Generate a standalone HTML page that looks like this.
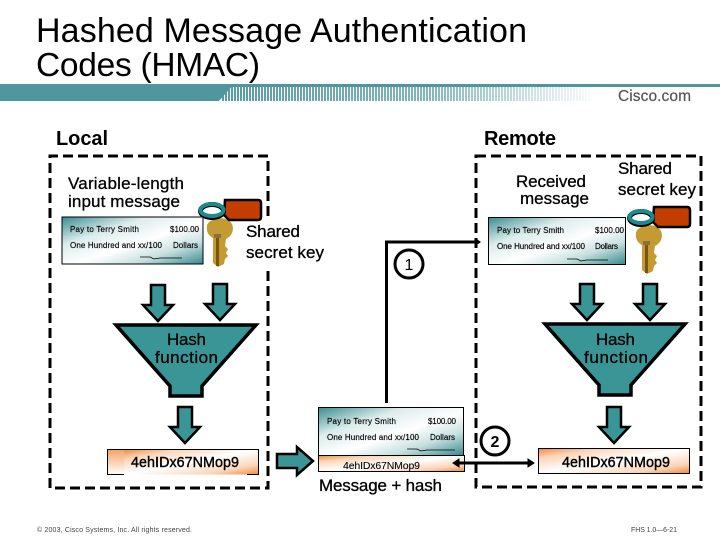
<!DOCTYPE html>
<html><head><meta charset="utf-8"><style>
html,body{margin:0;padding:0;background:#fff;width:720px;height:540px;overflow:hidden}
svg{display:block}
text{font-family:"Liberation Sans",sans-serif;fill:#000}
.m{font-size:17px;stroke:#000;stroke-width:.3}
.c{font-size:8px;stroke:#000;stroke-width:.15}
.h{font-size:14.3px;stroke:#000;stroke-width:.4}
</style></head><body>
<svg width="720" height="540" viewBox="0 0 720 540" xmlns="http://www.w3.org/2000/svg">
<defs>
<pattern id="st" width="3" height="20" patternUnits="userSpaceOnUse"><rect width="2" height="20" fill="#4f969f"/></pattern>
<linearGradient id="fade" x1="0" x2="1" y1="0" y2="0"><stop offset="0" stop-color="#fff" stop-opacity=".05"/><stop offset=".55" stop-color="#fff" stop-opacity=".3"/><stop offset="1" stop-color="#fff" stop-opacity="1"/></linearGradient>
<linearGradient id="chk" x1="0" y1="0" x2="1" y2="1"><stop offset="0" stop-color="#3a8c8f"/><stop offset=".3" stop-color="#dcecec"/><stop offset=".55" stop-color="#fff"/><stop offset=".75" stop-color="#c8e0e0"/><stop offset="1" stop-color="#348a8c"/></linearGradient>
<linearGradient id="or" x1="0" y1="0" x2="1" y2="1"><stop offset="0" stop-color="#f08a3c"/><stop offset=".2" stop-color="#fbd5b8"/><stop offset=".5" stop-color="#fff"/><stop offset=".8" stop-color="#fbd5b8"/><stop offset="1" stop-color="#f08a3c"/></linearGradient>
<linearGradient id="orv" x1="0" y1="0" x2="0" y2="1"><stop offset="0" stop-color="#f5a265"/><stop offset="1" stop-color="#fff"/></linearGradient>
<g id="key">
<path d="M207 226 C208 218 226 214 232 224 C235 232 230 237 226 239 L225 246 L228 249 L226 253 L228 256 L225 259 L224 264 L218 267 L213 263 L213 238 C209 236 206 232 207 226Z" fill="#c49a32"/>
<rect x="216" y="238" width="3" height="28" fill="#7a5510"/>
<rect x="214" y="234" width="7" height="4" fill="#8a7040"/>
<path d="M225 200 H258 Q261 200 261 203 V217 Q261 220 258 220 H229 L224 215Z" fill="#c33c00" stroke="#000" stroke-width="2.500"/>
<ellipse cx="212" cy="211" rx="11.500" ry="6.500" fill="none" stroke="#000" stroke-width="5"/>
<ellipse cx="212" cy="210" rx="11.500" ry="6" fill="none" stroke="#1d8a8c" stroke-width="4"/>
</g>
<path id="d1" d="M-7 0 H7 V20 H15 L0 36 L-15 20 H-7Z" fill="#3a9696" stroke="#000" stroke-width="2.500"/>
<path id="fn" d="M0 0 H140 L86 61 V71 H54 V61Z" fill="#3a9696" stroke="#000" stroke-width="3.500"/>
</defs>

<!-- Title -->
<text x="36" y="42" font-size="34" textLength="491" lengthAdjust="spacing">Hashed Message Authentication</text>
<text x="36" y="76" font-size="33.500" textLength="224" lengthAdjust="spacing">Codes (HMAC)</text>

<!-- Header bar -->
<rect x="222" y="87" width="370" height="14" fill="url(#st)"/>
<rect x="222" y="87" width="378" height="14" fill="url(#fade)"/>
<rect x="220" y="84" width="500" height="3" fill="#4f969f"/>
<path d="M0 84 H234 L219 101 H0Z" fill="#4f969f"/>
<text x="618" y="101" font-size="15.500" style="fill:#555" stroke="#555" stroke-width=".2" textLength="73" lengthAdjust="spacing">Cisco.com</text>

<!-- Headings -->
<text x="56" y="145" font-size="20" font-weight="bold" textLength="52">Local</text>
<text x="484" y="145" font-size="20" font-weight="bold" textLength="72">Remote</text>

<!-- Dashed boxes -->
<g fill="none" stroke="#000" stroke-width="3" stroke-dasharray="10 5">
<path d="M268 216 V156 H50 V488 H268 V267"/>
<path d="M476 156 H701 V487 H476 Z"/>
</g>

<!-- Left side -->
<text class="m" x="68" y="189" textLength="116">Variable-length</text>
<text class="m" x="68" y="207" textLength="112">input message</text>
<use href="#key"/>
<rect x="62" y="217" width="141" height="47" fill="url(#chk)" stroke="#000"/>
<text class="c" x="70" y="232" textLength="69">Pay to Terry Smith</text>
<text class="c" x="170" y="232" textLength="29">$100.00</text>
<text class="c" x="70" y="248" textLength="92">One Hundred and xx/100</text>
<text class="c" x="173" y="248" textLength="25">Dollars</text>
<path d="M140 257 H150 L154 259 L160 258 H182" fill="none" stroke="#000" stroke-width=".8"/>
<text class="m" x="246" y="237" textLength="54">Shared</text>
<text class="m" x="246" y="258" textLength="78">secret key</text>

<use href="#d1" x="158" y="285"/>
<use href="#d1" x="220" y="284"/>
<use href="#fn" x="116" y="325"/>
<text class="m" x="167" y="345" textLength="39">Hash</text>
<text class="m" x="155" y="363" textLength="63">function</text>
<use href="#d1" x="185" y="407"/>
<rect x="107.500" y="449.500" width="17" height="25" fill="url(#orv)"/>
<rect x="124" y="449.500" width="134.500" height="25" fill="url(#or)"/>
<path d="M124 474.500 H107.500 V449.500 H258.500 V474.500 H247" fill="none" stroke="#000"/>
<text class="h" x="131" y="467" textLength="108">4ehIDx67NMop9</text>

<!-- Right pointing arrow -->
<path d="M277 454 H297 V447 L313 461 L297 475 V468 H277Z" fill="#3a9696" stroke="#000" stroke-width="2.500"/>

<!-- Center -->
<rect x="318.500" y="407.500" width="145" height="48" fill="url(#chk)" stroke="#000"/>
<rect x="318.500" y="455.500" width="146" height="16" fill="url(#or)" stroke="#000"/>
<text class="c" x="327" y="424" textLength="69">Pay to Terry Smith</text>
<text class="c" x="428" y="424" textLength="28">$100.00</text>
<text class="c" x="327" y="440" textLength="92">One Hundred and xx/100</text>
<text class="c" x="430" y="440" textLength="25">Dollars</text>
<path d="M407 449 H417 L421 451 L427 450 H455" fill="none" stroke="#000" stroke-width=".8"/>
<text x="343" y="469" font-size="10.500" stroke="#000" stroke-width=".1" textLength="77">4ehIDx67NMop9</text>
<text class="m" x="319" y="491" textLength="123">Message + hash</text>

<!-- Connector 1 -->
<path d="M386.500 403 V242 H478" fill="none" stroke="#000" stroke-width="3"/>
<path d="M476 238.500 L481 242 L476 245.500Z" fill="#000"/>
<circle cx="409" cy="264" r="14" fill="#fff" stroke="#000" stroke-width="3"/>
<text x="409" y="270" font-size="16" text-anchor="middle">1</text>

<!-- Connector 2 -->
<path d="M456 463 H531" fill="none" stroke="#000" stroke-width="3"/>
<path d="M459 459 L453 463 L459 467Z M528 459 L534 463 L528 467Z" fill="#000" stroke="#000"/>
<circle cx="495" cy="441" r="14" fill="#fff" stroke="#000" stroke-width="3"/>
<text x="495" y="447" font-size="16" font-weight="bold" text-anchor="middle">2</text>

<!-- Right side -->
<text class="m" x="516" y="187" textLength="70">Received</text>
<text class="m" x="520" y="204" textLength="69">message</text>
<text class="m" x="618" y="174" textLength="54">Shared</text>
<text class="m" x="618" y="195" textLength="78">secret key</text>
<use href="#key" x="429" y="7"/>
<rect x="488.500" y="217.500" width="137" height="47" fill="url(#chk)" stroke="#000"/>
<text class="c" x="497" y="233" textLength="67">Pay to Terry Smith</text>
<text class="c" x="595" y="233" textLength="29">$100.00</text>
<text class="c" x="497" y="249" textLength="88">One Hundred and xx/100</text>
<text class="c" x="595" y="249" textLength="23">Dollars</text>
<path d="M567 259 H577 L581 261 L587 260 H608" fill="none" stroke="#000" stroke-width=".8"/>

<use href="#d1" x="587" y="284"/>
<use href="#d1" x="650" y="284"/>
<use href="#fn" x="545" y="324"/>
<text class="m" x="596" y="345" textLength="39">Hash</text>
<text class="m" x="584" y="363" textLength="64">function</text>
<use href="#d1" x="614" y="407"/>
<rect x="538.500" y="448.500" width="151" height="25" fill="url(#or)" stroke="#000"/>
<text class="h" x="562" y="467" textLength="108">4ehIDx67NMop9</text>

<!-- Footer -->
<text x="37" y="532" font-size="7" style="fill:#444" textLength="155">© 2003, Cisco Systems, Inc. All rights reserved.</text>
<text x="631" y="532" font-size="7" style="fill:#444" textLength="46">FHS 1.0—6-21</text>
</svg>
</body></html>
